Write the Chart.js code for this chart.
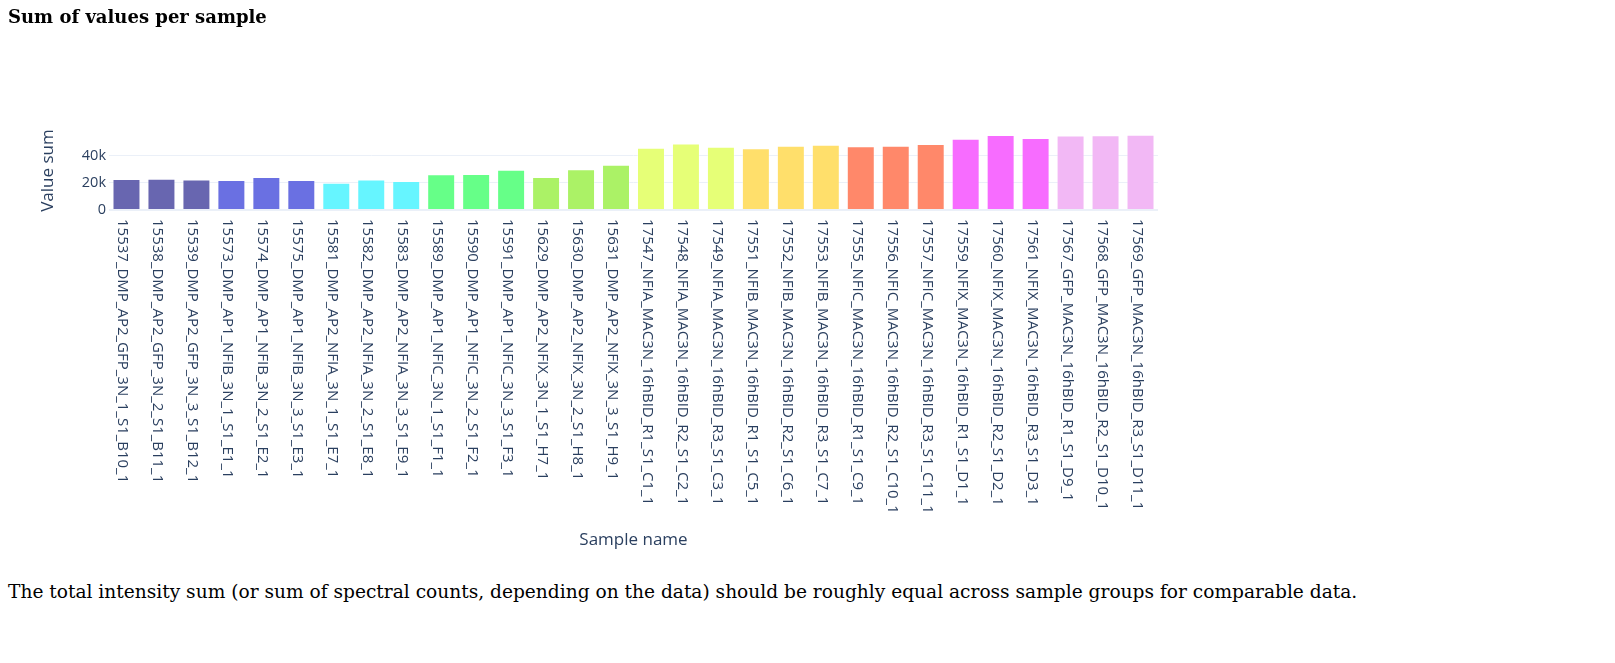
<!DOCTYPE html>
<html>
<head>
<meta charset="utf-8">
<script src="https://cdn.jsdelivr.net/npm/chart.js@4.4.1/dist/chart.umd.min.js"></script>
<style>
  html, body { margin: 0; padding: 0; background: #fff; width: 1615px; height: 663px; overflow: hidden; }
  #title { position: absolute; left: 8px; top: 6px; margin: 0; font-family: "DejaVu Serif", serif; font-weight: bold; font-size: 18px; line-height: 22px; color: #000; white-space: nowrap; }
  #wrap { position: absolute; left: 0; top: 0; width: 1615px; height: 560px; }
  #note { position: absolute; left: 8px; top: 581px; margin: 0; font-family: "DejaVu Serif", serif; font-size: 18.6px; line-height: 22px; color: #000; white-space: nowrap; }
</style>
</head>
<body>
<div id="wrap"><canvas id="c" width="1615" height="560"></canvas></div>
<h3 id="title">Sum of values per sample</h3>
<p id="note">The total intensity sum (or sum of spectral counts, depending on the data) should be roughly equal across sample groups for comparable data.</p>
<script>
const sampleNames = [
  "15537_DMP_AP2_GFP_3N_1_S1_B10_1", "15538_DMP_AP2_GFP_3N_2_S1_B11_1", "15539_DMP_AP2_GFP_3N_3_S1_B12_1",
  "15573_DMP_AP1_NFIB_3N_1_S1_E1_1", "15574_DMP_AP1_NFIB_3N_2_S1_E2_1", "15575_DMP_AP1_NFIB_3N_3_S1_E3_1",
  "15581_DMP_AP2_NFIA_3N_1_S1_E7_1", "15582_DMP_AP2_NFIA_3N_2_S1_E8_1", "15583_DMP_AP2_NFIA_3N_3_S1_E9_1",
  "15589_DMP_AP1_NFIC_3N_1_S1_F1_1", "15590_DMP_AP1_NFIC_3N_2_S1_F2_1", "15591_DMP_AP1_NFIC_3N_3_S1_F3_1",
  "15629_DMP_AP2_NFIX_3N_1_S1_H7_1", "15630_DMP_AP2_NFIX_3N_2_S1_H8_1", "15631_DMP_AP2_NFIX_3N_3_S1_H9_1",
  "17547_NFIA_MAC3N_16hBID_R1_S1_C1_1", "17548_NFIA_MAC3N_16hBID_R2_S1_C2_1", "17549_NFIA_MAC3N_16hBID_R3_S1_C3_1",
  "17551_NFIB_MAC3N_16hBID_R1_S1_C5_1", "17552_NFIB_MAC3N_16hBID_R2_S1_C6_1", "17553_NFIB_MAC3N_16hBID_R3_S1_C7_1",
  "17555_NFIC_MAC3N_16hBID_R1_S1_C9_1", "17556_NFIC_MAC3N_16hBID_R2_S1_C10_1", "17557_NFIC_MAC3N_16hBID_R3_S1_C11_1",
  "17559_NFIX_MAC3N_16hBID_R1_S1_D1_1", "17560_NFIX_MAC3N_16hBID_R2_S1_D2_1", "17561_NFIX_MAC3N_16hBID_R3_S1_D3_1",
  "17567_GFP_MAC3N_16hBID_R1_S1_D9_1", "17568_GFP_MAC3N_16hBID_R2_S1_D10_1", "17569_GFP_MAC3N_16hBID_R3_S1_D11_1"
];
const valueSums = [
  22800, 23100, 22400,
  22100, 24300, 22100,
  20100, 22400, 21400,
  26300, 26500, 29700,
  24300, 30000, 33400,
  45900, 48900, 46600,
  45500, 47400, 48100,
  46900, 47400, 48600,
  52500, 55300, 53100,
  54800, 55000, 55500
];
const groupColors = ["#6866B0", "#6A70E2", "#66F5FF", "#66FF88", "#ABF266", "#E6FF77", "#FFDF6B", "#FF886A", "#F76CFF", "#F2B8F5"];
const sampleGroup = [0,0,0, 1,1,1, 2,2,2, 3,3,3, 4,4,4, 5,5,5, 6,6,6, 7,7,7, 8,8,8, 9,9,9];
const yTickValues = [0, 20000, 40000];
const yMax = 58200;

const AXIS_COLOR = "#2a3f5f";
const GRID_COLOR = "#EBF0F8";

const rotatedLabels = {
  id: "rotatedLabels",
  afterDraw(chart) {
    const xs = chart.scales.x;
    const ctx = chart.ctx;
    ctx.save();
    ctx.font = '15px "Open Sans"';
    ctx.fillStyle = AXIS_COLOR;
    ctx.textAlign = "left";
    ctx.textBaseline = "alphabetic";
    sampleNames.forEach((name, i) => {
      const x = xs.getPixelForValue(i);
      ctx.save();
      ctx.translate(x, chart.chartArea.bottom + 9);
      ctx.rotate(Math.PI / 2);
      ctx.fillText(name, 0, 8);
      ctx.restore();
    });
    ctx.restore();
  }
};

new Chart(document.getElementById("c"), {
  type: "bar",
  data: {
    labels: sampleNames,
    datasets: [{
      data: valueSums,
      backgroundColor: sampleGroup.map(g => groupColors[g]),
      borderColor: "rgba(255,255,255,0.35)",
      borderWidth: 1,
      barPercentage: 0.8,
      categoryPercentage: 1.0
    }]
  },
  options: {
    responsive: false,
    devicePixelRatio: 1,
    animation: false,
    layout: { padding: { left: 34, top: 131, right: 457, bottom: 5.8 } },
    plugins: { legend: { display: false }, tooltip: { enabled: false } },
    scales: {
      x: {
        offset: true,
        grid: { display: false },
        border: { display: false },
        ticks: { display: false },
        title: { display: true, text: "Sample name", color: AXIS_COLOR, font: { family: "Open Sans", size: 17 }, padding: { top: 4, bottom: 4 } },
        afterFit(scale) { scale.height = 344.2; }
      },
      y: {
        min: 0,
        max: yMax,
        grid: {
          color: GRID_COLOR,
          lineWidth: ctx => (ctx.tick && ctx.tick.value === 0 ? 2 : 1),
          drawTicks: false
        },
        border: { display: false },
        ticks: {
          color: AXIS_COLOR,
          font: { family: "Open Sans", size: 14.5 },
          padding: 3,
          callback: v => (v === 0 ? "0" : (v / 1000) + "k")
        },
        afterBuildTicks(scale) { scale.ticks = yTickValues.map(v => ({ value: v })); },
        title: { display: true, text: "Value sum", color: AXIS_COLOR, font: { family: "Open Sans", size: 17 }, padding: { top: 4, bottom: 4 } },
        afterFit(scale) { scale.width = 75; }
      }
    }
  },
  plugins: [rotatedLabels]
});
</script>
</body>
</html>
